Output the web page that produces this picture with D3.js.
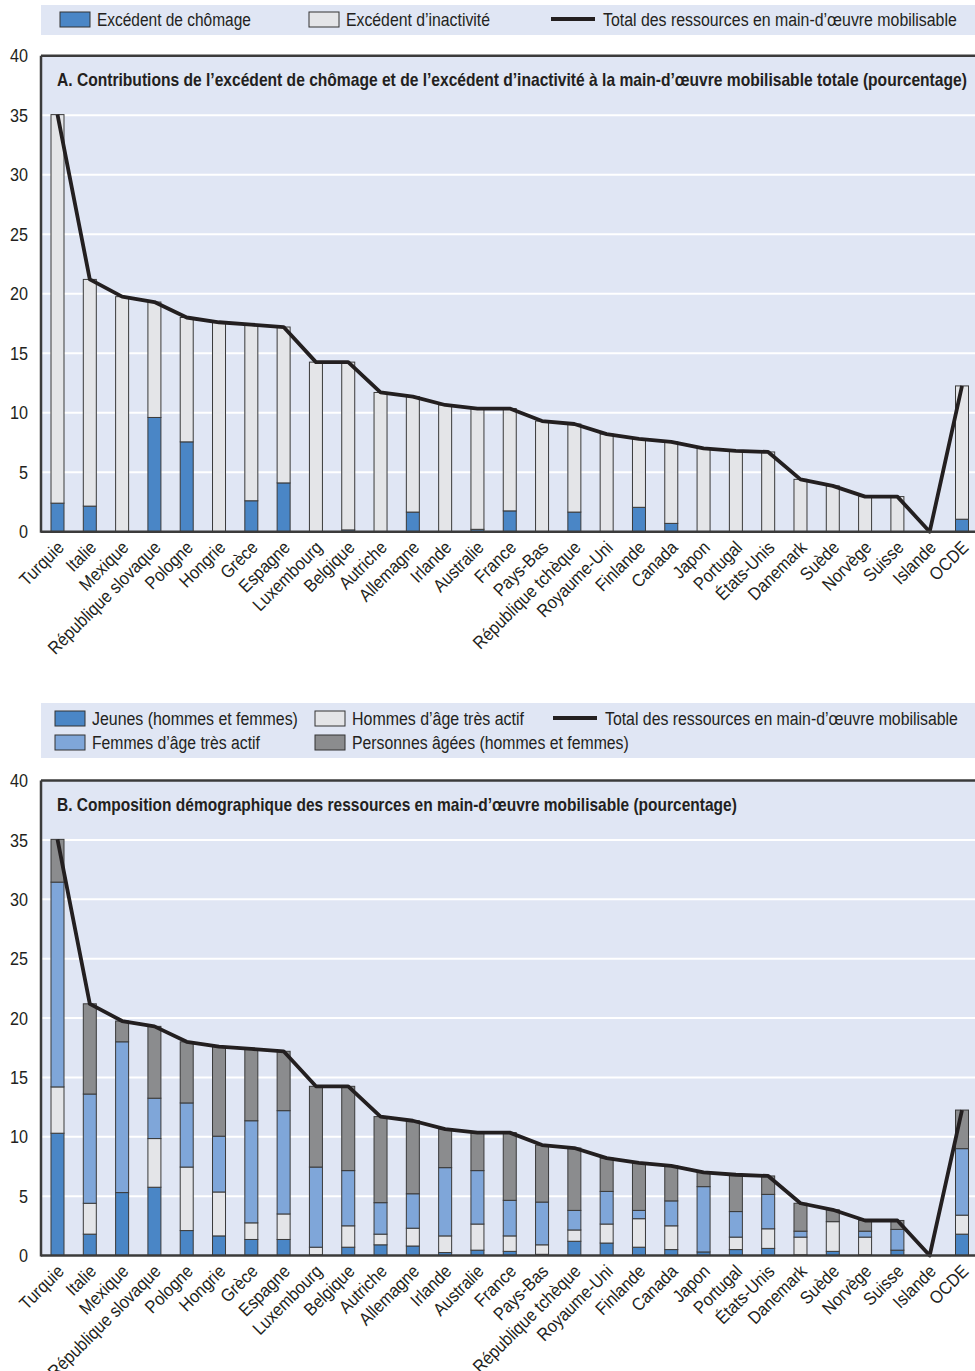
<!DOCTYPE html>
<html>
<head>
<meta charset="utf-8">
<script src="https://cdn.jsdelivr.net/npm/d3@7"></script>
<style>
  body { margin: 0; background: #fff; }
  svg text { font-family: "Liberation Sans", Arial, sans-serif; fill: #231f20; }
</style>
</head>
<body>
<svg id="chart" width="975" height="1371"></svg>
<script>
// Countries, sorted as in the chart
const countries = ["Turquie", "Italie", "Mexique", "République slovaque", "Pologne", "Hongrie",
  "Grèce", "Espagne", "Luxembourg", "Belgique", "Autriche", "Allemagne", "Irlande", "Australie",
  "France", "Pays-Bas", "République tchèque", "Royaume-Uni", "Finlande", "Canada", "Japon",
  "Portugal", "États-Unis", "Danemark", "Suède", "Norvège", "Suisse", "Islande", "OCDE"];

// Panel A: excess unemployment / excess inactivity (percent)
const unemployment = [2.4, 2.15, 0, 9.6, 7.55, 0, 2.6, 4.1, 0, 0.15, 0, 1.65, 0, 0.2,
  1.75, 0, 1.65, 0, 2.05, 0.7, 0, 0, 0, 0, 0, 0, 0, 0, 1.05];
const inactivity = [32.65, 19.05, 19.75, 9.7, 10.45, 17.6, 14.8, 13.1, 14.25, 14.1, 11.7, 9.7, 10.65, 10.15,
  8.6, 9.3, 7.4, 8.2, 5.75, 6.85, 7.0, 6.8, 6.7, 4.4, 3.85, 2.95, 2.95, 0, 11.2];

// Panel B: demographic composition (percent)
const youth = [10.3, 1.8, 5.3, 5.75, 2.1, 1.65, 1.35, 1.35, 0.05, 0.7, 0.9, 0.8, 0.25, 0.45,
  0.35, 0.1, 1.2, 1.05, 0.7, 0.5, 0.3, 0.5, 0.6, 0.05, 0.35, 0.05, 0.45, 0, 1.8];
const primeMen = [3.9, 2.6, 0, 4.1, 5.35, 3.7, 1.4, 2.15, 0.65, 1.8, 0.9, 1.5, 1.4, 2.2,
  1.3, 0.8, 0.95, 1.6, 2.4, 2.0, 0, 1.05, 1.65, 1.5, 2.5, 1.5, 0, 0, 1.6];
const primeWomen = [17.25, 9.2, 12.7, 3.4, 5.4, 4.7, 8.6, 8.7, 6.75, 4.65, 2.65, 2.9, 5.75, 4.5,
  3.0, 3.6, 1.65, 2.75, 0.7, 2.1, 5.5, 2.15, 2.9, 0.5, 0, 0.5, 1.75, 0, 5.6];
const older = [3.6, 7.6, 1.75, 6.05, 5.15, 7.55, 6.05, 5.0, 6.8, 7.1, 7.25, 6.15, 3.25, 3.2,
  5.7, 4.8, 5.25, 2.8, 4.0, 2.95, 1.2, 3.1, 1.55, 2.35, 1.0, 0.9, 0.75, 0, 3.25];

const yTicks = [0, 5, 10, 15, 20, 25, 30, 35, 40];

const colors = {
  unemp: "#4a86c6", inact: "#e4e5e8",
  youth: "#4a86c6", men: "#e4e5e8", women: "#7fa6d9", older: "#8b8c8e",
  bg: "#e0e6f4", ink: "#231f20"
};

const svg = d3.select("#chart");
const left = 41, right = 975;

const x = d3.scalePoint().domain(countries).range([57.5, 962]);
const barW = 13;

// squeeze a text horizontally so that it spans `width` pixels (condensed face look-alike)
function fitText(sel, px, py, width) {
  const w = sel.node().getComputedTextLength();
  sel.attr("x", 0).attr("y", 0)
    .attr("transform", `translate(${px},${py}) scale(${width / w},1)`);
}

// horizontal squeeze used for the tick and category labels
let labelScale = 0.8, numScale = 0.8;
(function measure() {
  const t = svg.append("text").style("font-size", "18px").text("République slovaque");
  labelScale = 151 / t.node().getComputedTextLength();
  t.style("font-size", "19px").text("35");
  numScale = 18 / t.node().getComputedTextLength();
  t.remove();
})();

function drawPanel(opts) {
  const { y0, y40, title, titleLen, keys, data, fills } = opts;
  const y = d3.scaleLinear().domain([0, 40]).range([y0, y40]);
  const g = svg.append("g");

  // plot background
  g.append("rect").attr("x", left).attr("y", y40).attr("width", right - left).attr("height", y0 - y40)
    .attr("fill", colors.bg);

  // gridlines
  g.selectAll(".grid").data(yTicks.filter(d => d > 0 && d < 40)).join("line")
    .attr("x1", left).attr("x2", right).attr("y1", d => y(d)).attr("y2", d => y(d))
    .attr("stroke", "#fff").attr("stroke-width", 2);

  // frame top
  g.append("line").attr("x1", left).attr("x2", right).attr("y1", y40).attr("y2", y40)
    .attr("stroke", "#3b3b3b").attr("stroke-width", 2.5);

  // y axis labels
  const ya = g.append("g").attr("transform", `translate(${left},0)`)
    .call(d3.axisLeft(y).tickValues(yTicks).tickSize(0).tickPadding(13));
  ya.select(".domain").remove();
  ya.selectAll("text").style("font-size", "19px").attr("fill", colors.ink)
    .attr("x", 0).attr("transform", `translate(-13,0) scale(${numScale},1)`);

  // title
  const t = g.append("text").attr("font-weight", "bold").style("font-size", "18px").text(title);
  fitText(t, 57, y40 + 30, titleLen);

  // stacked bars
  const rows = countries.map((c, i) => {
    const r = { country: c };
    keys.forEach(k => r[k] = data[k][i]);
    return r;
  });
  const series = d3.stack().keys(keys)(rows);
  g.selectAll(".series").data(series).join("g")
    .attr("fill", d => fills[d.key])
    .selectAll("rect").data(d => d.filter(p => p[1] - p[0] > 0)).join("rect")
    .attr("x", d => x(d.data.country) - barW / 2)
    .attr("y", d => y(d[1]))
    .attr("width", barW)
    .attr("height", d => y(d[0]) - y(d[1]))
    .attr("stroke", "#3a3a3a").attr("stroke-width", 1);

  // total line
  const totals = rows.map(r => ({ country: r.country, v: d3.sum(keys, k => r[k]) }));
  g.append("path").datum(totals)
    .attr("fill", "none").attr("stroke", colors.ink).attr("stroke-width", 3.8)
    .attr("stroke-linejoin", "round")
    .attr("d", d3.line().x(d => x(d.country)).y(d => y(d.v)));

  // axes lines
  g.append("line").attr("x1", left).attr("x2", left).attr("y1", y40).attr("y2", y0 + 1)
    .attr("stroke", "#3b3b3b").attr("stroke-width", 2.5);
  g.append("line").attr("x1", left).attr("x2", right).attr("y1", y0).attr("y2", y0)
    .attr("stroke", "#3b3b3b").attr("stroke-width", 2.5);

  // category labels
  const xa = g.append("g").attr("transform", `translate(0,${y0})`)
    .call(d3.axisBottom(x).tickSize(0).tickPadding(0));
  xa.select(".domain").remove();
  xa.selectAll("text")
    .style("font-size", "18px").attr("fill", colors.ink)
    .attr("text-anchor", "end")
    .attr("dy", null).attr("y", 0)
    .attr("transform", `translate(7,17) rotate(-45) scale(${labelScale},1)`);
}

function legendItem(g, item, px, py) {
  let tx;
  if (item.type === "line") {
    g.append("line").attr("x1", px).attr("x2", px + 44).attr("y1", py).attr("y2", py)
      .attr("stroke", colors.ink).attr("stroke-width", 4);
    tx = px + 52;
  } else {
    g.append("rect").attr("x", px).attr("y", py - 7).attr("width", 30).attr("height", 15)
      .attr("fill", item.fill).attr("stroke", "#333").attr("stroke-width", 1);
    tx = px + 37;
  }
  const t = g.append("text").style("font-size", "19px").text(item.label);
  fitText(t, tx, py + 7, item.len);
}

// Legend A
const legA = svg.append("g");
legA.append("rect").attr("x", left).attr("y", 5).attr("width", right - left).attr("height", 30).attr("fill", colors.bg);
legendItem(legA, { label: "Excédent de chômage", fill: colors.unemp, len: 154 }, 60, 19);
legendItem(legA, { label: "Excédent d’inactivité", fill: colors.inact, len: 144 }, 309, 19);
legendItem(legA, { type: "line", label: "Total des ressources en main-d’œuvre mobilisable", len: 354 }, 551, 19);

drawPanel({
  y0: 531.7, y40: 55.7,
  title: "A.   Contributions de l’excédent de chômage et de l’excédent d’inactivité à la main-d’œuvre mobilisable totale (pourcentage)",
  titleLen: 911,
  keys: ["unemp", "inact"],
  data: { unemp: unemployment, inact: inactivity },
  fills: { unemp: colors.unemp, inact: colors.inact }
});

// Legend B
const legB = svg.append("g");
legB.append("rect").attr("x", left).attr("y", 703).attr("width", right - left).attr("height", 55).attr("fill", colors.bg);
legendItem(legB, { label: "Jeunes (hommes et femmes)", fill: colors.youth, len: 206 }, 55, 718);
legendItem(legB, { label: "Femmes d’âge très actif", fill: colors.women, len: 168 }, 55, 742);
legendItem(legB, { label: "Hommes d’âge très actif", fill: colors.men, len: 172 }, 315, 718);
legendItem(legB, { label: "Personnes âgées (hommes et femmes)", fill: colors.older, len: 277 }, 315, 742);
legendItem(legB, { type: "line", label: "Total des ressources en main-d’œuvre mobilisable", len: 353 }, 553, 718);

drawPanel({
  y0: 1255.5, y40: 780.6,
  title: "B.   Composition démographique des ressources en main-d’œuvre mobilisable (pourcentage)",
  titleLen: 680,
  keys: ["youth", "men", "women", "older"],
  data: { youth: youth, men: primeMen, women: primeWomen, older: older },
  fills: { youth: colors.youth, men: colors.men, women: colors.women, older: colors.older }
});
</script>
</body>
</html>
